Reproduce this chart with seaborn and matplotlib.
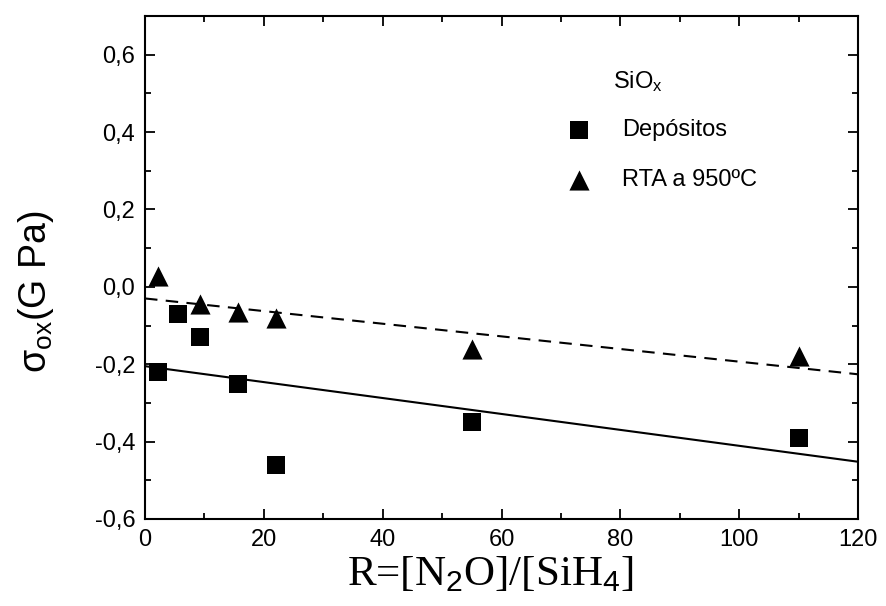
import matplotlib
matplotlib.use("Agg")
import matplotlib.pyplot as plt
import seaborn as sns
import numpy as np
import pandas as pd
from matplotlib.ticker import MultipleLocator, FuncFormatter

# Data
dep_x = [2.2, 5.6, 9.3, 15.7, 22.0, 55.0, 110.0]
dep_y = [-0.22, -0.07, -0.13, -0.25, -0.46, -0.35, -0.39]
rta_x = [2.2, 9.3, 15.7, 22.0, 55.0, 110.0]
rta_y = [0.028, -0.045, -0.065, -0.08, -0.16, -0.18]
fit_x = [0, 120]
fit_dep_y = [-0.205, -0.452]
fit_rta_y = [-0.03, -0.226]

sns.set_theme(style="ticks")
plt.rcParams['font.family'] = ['Liberation Sans', 'DejaVu Sans']
plt.rcParams['text.color'] = 'black'
plt.rcParams['axes.labelcolor'] = 'black'
plt.rcParams['mathtext.fontset'] = 'custom'
plt.rcParams['mathtext.rm'] = 'Liberation Sans'
plt.rcParams['mathtext.it'] = 'Liberation Sans:italic'

W, H = 886, 606
fig = plt.figure(figsize=(W / 100, H / 100), dpi=100)
L, R, T, B = 145, 858, 16, 519
ax = fig.add_axes([L / W, 1 - B / H, (R - L) / W, (B - T) / H])

df_dep = pd.DataFrame({"x": dep_x, "y": dep_y})
df_rta = pd.DataFrame({"x": rta_x, "y": rta_y})

sns.lineplot(x=fit_x, y=fit_dep_y, ax=ax, color="black", lw=1.5, zorder=2)
sns.lineplot(x=fit_x, y=fit_rta_y, ax=ax, color="black", lw=1.5, ls=(0, (6, 4)), zorder=2)
sns.scatterplot(data=df_dep, x="x", y="y", ax=ax, marker="s", s=150, color="black",
                edgecolor="black", linewidth=0, label="Depósitos", zorder=3)
sns.scatterplot(data=df_rta, x="x", y="y", ax=ax, marker="^", s=210, color="black",
                edgecolor="black", linewidth=0, label="RTA a 950ºC", zorder=3)

ax.set_xlim(0, 120)
ax.set_ylim(-0.6, 0.7)
ax.xaxis.set_major_locator(MultipleLocator(20))
ax.xaxis.set_minor_locator(MultipleLocator(10))
ax.yaxis.set_major_locator(MultipleLocator(0.2))
ax.yaxis.set_minor_locator(MultipleLocator(0.1))
ax.yaxis.set_major_formatter(FuncFormatter(lambda v, p: f"{v:.1f}".replace(".", ",").replace("-0,0", "0,0")))
ax.tick_params(which="both", direction="in", top=True, right=True, width=1.3, labelsize=17, colors="black")
ax.tick_params(which="major", length=7, pad=7)
ax.tick_params(which="minor", length=4)
for s in ax.spines.values():
    s.set_linewidth(1.5)
    s.set_color("black")

ax.set_xlabel("")
ax.set_ylabel("")
fig.text(490 / W, 1 - 574 / H, r"R=[N$_2$O]/[SiH$_4$]", fontfamily="Liberation Serif",
         fontsize=31, ha="center", va="center", color="black")
fig.text(36 / W, 1 - 292 / H, r"σ$_{\rm ox}$(G Pa)", fontsize=27, rotation=90,
         ha="center", va="center", color="black")

fig.text(613 / W, 1 - 82 / H, r"SiO$_{\rm x}$", fontsize=17, ha="left", va="center", color="black")
leg = ax.legend(loc="upper left", bbox_to_anchor=(567 / W, 1 - 119 / H),
                bbox_transform=fig.transFigure, frameon=False, fontsize=17,
                handlelength=1.0, handletextpad=1.35, borderpad=0, borderaxespad=0,
                labelspacing=1.2, markerscale=1.0)
for t in leg.get_texts():
    t.set_color("black")

fig.savefig("out.png", dpi=100)
